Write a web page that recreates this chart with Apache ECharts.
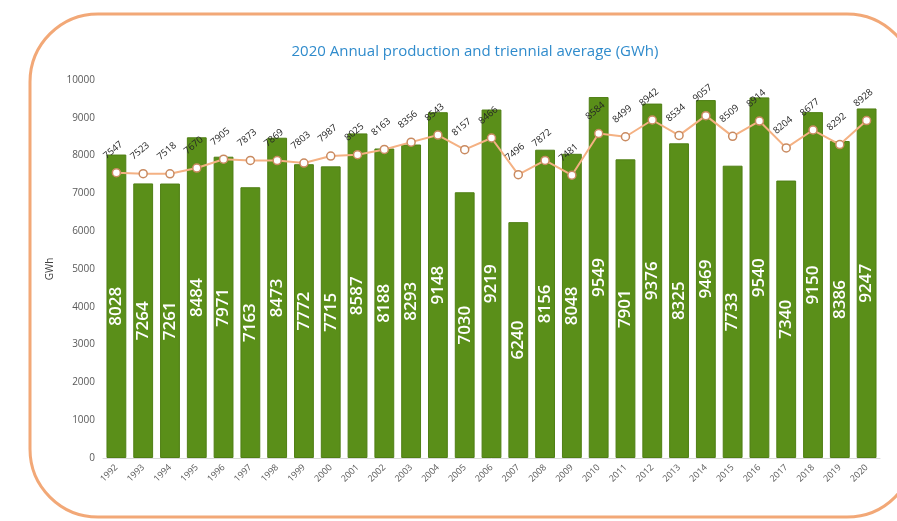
<!DOCTYPE html>
<html>
<head>
<meta charset="utf-8">
<script src="https://cdn.jsdelivr.net/npm/echarts@6/dist/echarts.min.js"></script>
<style>
  html, body { margin: 0; padding: 0; background: #fff; }
  #chart { width: 897px; height: 521px; }
</style>
</head>
<body>
<div id="chart"></div>
<script>
const years = ['1992', '1993', '1994', '1995', '1996', '1997', '1998', '1999', '2000', '2001',
  '2002', '2003', '2004', '2005', '2006', '2007', '2008', '2009', '2010', '2011',
  '2012', '2013', '2014', '2015', '2016', '2017', '2018', '2019', '2020']

// annual production (GWh)
const production = [8028, 7264, 7261, 8484, 7971, 7163, 8473, 7772, 7715, 8587,
  8188, 8293, 9148, 7030, 9219, 6240, 8156, 8048, 9549, 7901,
  9376, 8325, 9469, 7733, 9540, 7340, 9150, 8386, 9247]

// triennial average (GWh)
const average = [7547, 7523, 7518, 7670, 7905, 7873, 7869, 7803, 7987, 8025,
  8163, 8356, 8543, 8157, 8466, 7496, 7872, 7481, 8584, 8499,
  8942, 8534, 9057, 8509, 8914, 8204, 8677, 8292, 8928]

const yTicks = [0, 1000, 2000, 3000, 4000, 5000, 6000, 7000, 8000, 9000, 10000]

const chart = echarts.init(document.getElementById('chart'))

chart.setOption({
  animation: false,
  textStyle: { fontFamily: 'Open Sans' },
  title: {
    text: '2020 Annual production and triennial average (GWh)',
    left: 470,
    textAlign: 'center',
    top: 39,
    textStyle: { color: '#2f8bcc', fontSize: 15, fontWeight: 'normal' }
  },
  graphic: [{
    type: 'rect',
    shape: { x: 30, y: 14, width: 885, height: 503, r: 68 },
    style: { fill: 'none', stroke: '#f2a877', lineWidth: 3 },
    silent: true,
    z: -1
  }],
  grid: { left: 103, right: 17, top: 80, bottom: 63 },
  xAxis: {
    type: 'category',
    data: years,
    axisLine: { lineStyle: { color: '#d9d9d9' } },
    axisTick: { show: false },
    axisLabel: { rotate: 45, fontSize: 9, color: '#595959', margin: 8 }
  },
  yAxis: {
    type: 'value',
    min: yTicks[0],
    max: yTicks[yTicks.length - 1],
    interval: 1000,
    name: 'GWh',
    nameLocation: 'middle',
    nameGap: 42,
    nameTextStyle: { fontSize: 10, color: '#404040' },
    axisLine: { show: false },
    axisTick: { show: false },
    splitLine: { show: false },
    axisLabel: { fontSize: 10, color: '#595959', margin: 8, formatter: v => String(v) }
  },
  series: [{
    name: 'Production',
    type: 'bar',
    data: production,
    barWidth: '74%',
    itemStyle: { color: '#5a8f19', borderColor: '#4f7f14', borderWidth: 1 },
    label: {
      show: true,
      position: 'inside',
      rotate: 90,
      color: '#fff',
      fontSize: 17,
      fontWeight: 600
    }
  }, {
    name: 'Triennial average',
    type: 'line',
    data: average,
    symbol: 'circle',
    symbolSize: 8,
    lineStyle: { color: '#f4b183', width: 2 },
    itemStyle: { color: '#fff', borderColor: '#c98a60', borderWidth: 1.5 },
    label: {
      show: true,
      position: 'top',
      distance: 14,
      rotate: 40,
      fontSize: 9.5,
      color: '#262626'
    },
    z: 3
  }]
})
</script>
</body>
</html>
